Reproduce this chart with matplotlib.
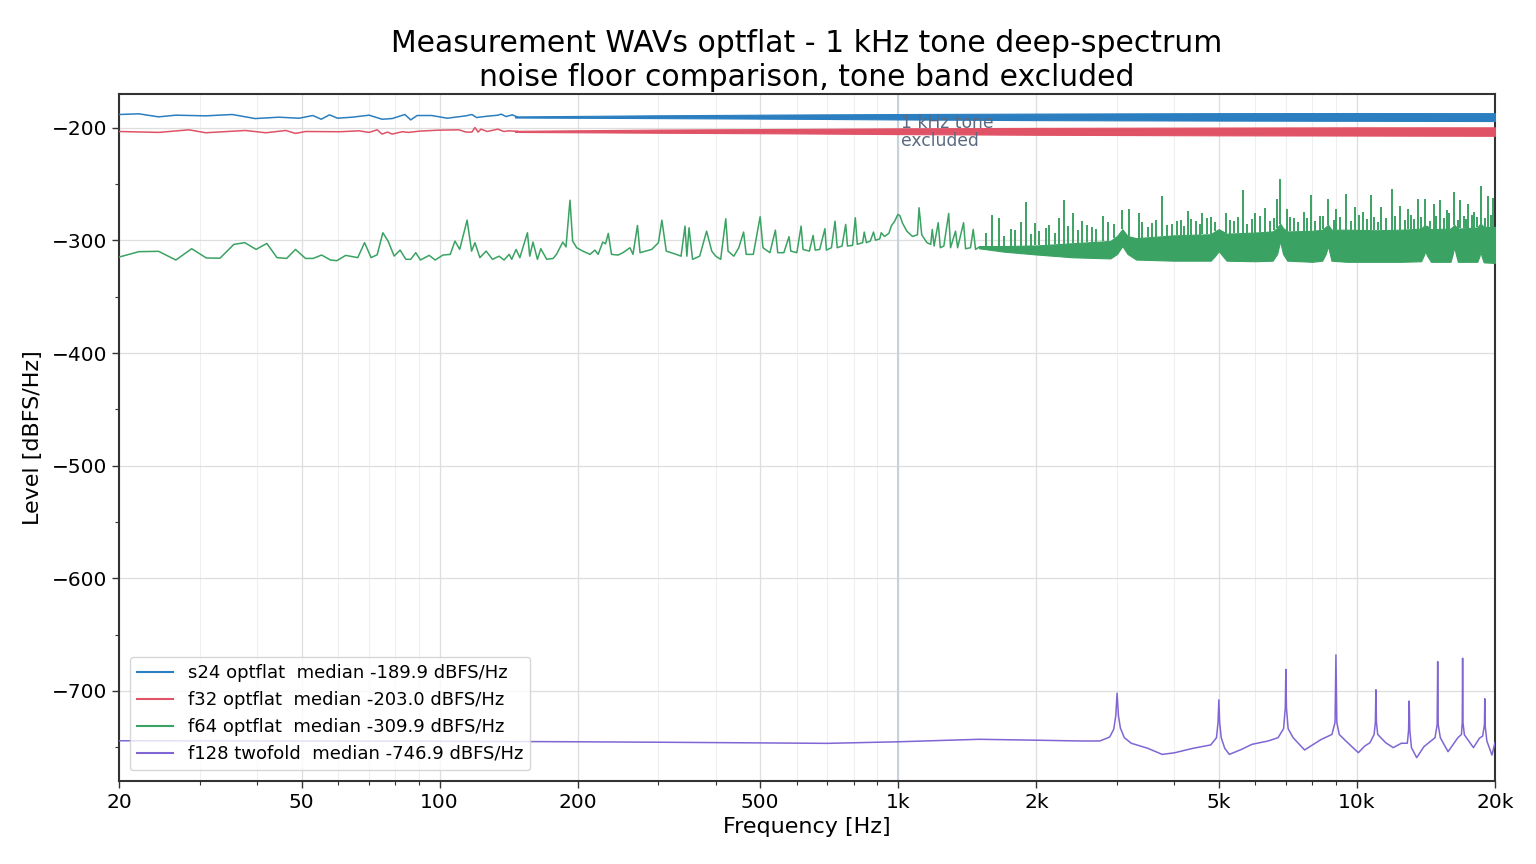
import numpy as np
import matplotlib
matplotlib.use("Agg")
import matplotlib.pyplot as plt
from matplotlib.ticker import FixedLocator, FixedFormatter, MultipleLocator, NullFormatter

# ---------------- data ----------------
title = "Measurement WAVs optflat - 1 kHz tone deep-spectrum\nnoise floor comparison, tone band excluded"
labels = ["s24 optflat  median -189.9 dBFS/Hz",
          "f32 optflat  median -203.0 dBFS/Hz",
          "f64 optflat  median -309.9 dBFS/Hz",
          "f128 twofold  median -746.9 dBFS/Hz"]
colors = ["#2b7fc0", "#e05266", "#3aa262", "#7f66d4"]

xtick_vals = [20, 50, 100, 200, 500, 1000, 2000, 5000, 10000, 20000]
xtick_labels = ["20", "50", "100", "200", "500", "1k", "2k", "5k", "10k", "20k"]

# s24 (blue): low-frequency trace, then dense band
s24_f = [20, 22.1, 24.4, 26.6, 30.9, 35.3, 39.6, 44.6, 49.4, 52.9, 55.2, 57.5, 59.9, 64.4,
         70.2, 74.9, 78.8, 84.0, 86.5, 89.3, 96.1, 103.9, 114.1, 117.6, 120.4, 125.2,
         134, 136.2, 139.6, 144, 148]
s24_v = [-188.2, -187.6, -190.3, -188.8, -189.4, -188.2, -191.8, -190.6, -191.5, -189.1,
         -192.4, -188.5, -191.5, -190.6, -188.8, -192.4, -191.8, -188.2, -193.0, -189.1,
         -189.1, -191.5, -189.4, -188.2, -190.9, -190.0, -188.8, -187.9, -190.0, -188.5, -190.5]
s24_band_f = [146, 300, 600, 1000, 2000, 5000, 10000, 20000]
s24_band_lo = [-190.9, -191.4, -192.0, -192.6, -193.2, -193.6, -193.8, -194.0]
s24_band_hi = [-189.9, -188.9, -188.2, -187.8, -187.4, -187.0, -186.9, -187.0]

# f32 (red)
f32_f = [20, 24.4, 28.4, 30.9, 37.7, 41.8, 46.2, 48.5, 51.0, 60.6, 66.7, 70.2, 73.1, 74.9,
         77.0, 78.8, 82.9, 85.6, 90.2, 99.5, 110.2, 114.1, 117.6, 119.4, 121.3, 123.1,
         127, 134, 138, 141.7, 148]
f32_v = [-203.3, -204.1, -201.8, -204.4, -202.4, -204.4, -202.4, -205.0, -203.3, -203.5,
         -202.7, -204.1, -201.8, -205.6, -203.8, -205.6, -203.5, -204.1, -203.0, -202.1,
         -201.8, -203.8, -203.8, -199.8, -203.8, -201.2, -203.3, -201.2, -203.3, -202.7, -203.2]
f32_band_f = [146, 300, 600, 1000, 2000, 5000, 10000, 20000]
f32_band_lo = [-203.7, -204.4, -205.0, -205.6, -206.2, -206.7, -206.9, -207.1]
f32_band_hi = [-202.7, -201.6, -201.0, -200.5, -200.1, -199.8, -199.6, -199.6]

# f64 (green): discernible trace up to 1.5 kHz
f64_f = [20, 22.1, 24.4, 26.6, 28.8, 31.0, 33.2, 35.6, 37.6, 39.8, 42.0, 44.2, 46.4, 48.5,
         51.0, 53.0, 55.3, 57.8, 59.7, 62.4, 66.3, 68.6, 70.9, 73.1, 75.2, 77.2, 79.6, 82.0,
         84.4, 86.5, 88.7, 90.8, 94.9, 97.8, 101.7, 105.5, 108.0, 110.6, 114.8, 117.4, 119.4,
         122.4, 126.3, 130.4, 134.8, 138.2, 141.8, 143.6, 146.8, 149.6, 155.4, 157.2, 159.8,
         163.4, 166.2, 171.2, 176.8, 179.8, 185.6, 188.6, 192.4, 195.0, 199.0, 205.2, 212.8,
         218.0, 221.6, 226.8, 230, 233.2, 237, 245, 251, 260, 264, 270, 273.5, 281.6, 290,
         300, 305.2, 312, 328, 336, 342.8, 346, 349.8, 356, 369, 382, 392, 400, 410, 420.6,
         425.5, 438, 449, 460, 466, 483, 499.8, 507, 525, 539.6, 546, 563, 577.8, 583, 601,
         614, 620, 640, 652, 659, 674, 692, 697, 715, 728, 736, 754, 768, 775, 795, 806, 814,
         836, 843, 852, 869, 883, 892, 911, 918, 933, 954, 966, 982, 998, 1008, 1021, 1044,
         1074, 1101, 1110, 1125, 1155, 1177, 1186, 1197, 1222, 1235, 1257, 1288, 1300, 1333,
         1347, 1388, 1402, 1437, 1457, 1474, 1500]
f64_v = [-314.8, -310.0, -309.7, -317.4, -307.4, -315.6, -315.8, -303.5, -302.0, -308.0,
         -302.7, -315.3, -316.0, -308.0, -316.0, -316.0, -313.0, -317.4, -318.0, -313.3,
         -315.3, -302.0, -315.3, -312.7, -293.2, -300.6, -313.9, -308.6, -316.8, -316.8,
         -310.9, -317.4, -313.3, -317.4, -313.0, -312.4, -300.6, -308.0, -282.0, -309.5,
         -302.0, -315.3, -309.5, -316.8, -314.0, -317.4, -312.4, -316.8, -308.0, -315.3,
         -293.2, -314.0, -301.5, -316.8, -307.4, -316.8, -316.0, -312.4, -301.5, -305.8,
         -264.3, -300.6, -306.5, -309.5, -312.4, -308.6, -312.4, -301.5, -303.0, -293.8,
         -312.4, -313.0, -310.9, -306.5, -312.4, -286.7, -310.9, -309.5, -308.0, -302.0,
         -282.0, -309.5, -312.4, -314.0, -287.3, -314.0, -288.8, -316.8, -314.0, -291.8,
         -309.5, -314.0, -316.8, -280.8, -309.5, -314.0, -306.5, -292.6, -312.4, -312.4,
         -279.0, -306.5, -310.9, -290.9, -310.9, -310.9, -296.7, -309.5, -310.9, -287.3,
         -308.0, -309.5, -295.6, -308.6, -308.0, -289.6, -308.6, -306.5, -282.9, -306.5,
         -305.0, -285.8, -305.0, -304.4, -279.9, -303.5, -302.0, -292.6, -302.0, -300.6,
         -292.6, -299.8, -298.7, -293.2, -296.5, -293.7, -287.0, -283.0, -277.0, -278.0,
         -284.5, -291.8, -296.5, -295.0, -271.0, -295.0, -302.0, -303.5, -290.3, -305.0,
         -284.3, -306.5, -305.0, -276.1, -306.5, -291.8, -306.5, -284.3, -307.4, -306.5,
         -290.3, -308.0, -306.0]
# f64 dense region (1.5k - 20k): envelope of the dense trace
f64_band_f = [1500, 1700, 2000, 2400, 2900, 3000, 3080, 3160, 3300, 4000, 4800, 4900, 5000,
              5100, 5200, 6000, 6550, 6700, 6800, 6900, 7050, 8000, 8400, 8550, 8650, 8800,
              9500, 11000, 12500, 13800, 14000, 14100, 14200, 14500, 16000, 16150, 16300,
              16450, 16600, 18300, 18500, 18600, 18700, 18900, 20000]
f64_band_lo = [-307.0, -310.0, -312.5, -315.0, -316.0, -312.0, -305.0, -312.0, -317.0,
               -318.0, -318.0, -314.0, -309.5, -314.0, -318.0, -318.5, -318.0, -312.0,
               -300.6, -312.0, -318.0, -319.0, -318.0, -312.0, -305.0, -318.0, -319.0,
               -319.0, -319.0, -318.5, -313.0, -309.5, -313.0, -319.0, -319.0, -313.0,
               -306.0, -313.0, -319.0, -319.0, -314.0, -309.5, -314.0, -319.5, -320.0]
f64_band_hi = [-305.0, -305.0, -304.5, -302.5, -300.5, -296.0, -290.0, -296.0, -298.0,
               -295.5, -294.5, -292.0, -290.0, -292.0, -294.0, -293.0, -292.0, -289.0,
               -285.0, -289.0, -292.0, -291.5, -290.5, -288.0, -286.0, -290.5, -290.5,
               -291.0, -290.5, -289.5, -287.0, -287.0, -287.0, -290.0, -289.5, -288.0,
               -286.0, -288.0, -289.5, -288.5, -286.0, -285.0, -286.0, -288.0, -288.0]
# isolated spikes rising above the dense region
f64_spike_f = [1600, 1660, 1760, 1850, 1900, 1990, 2030, 2130, 2240, 2300, 2410, 2520, 2640,
               2790, 2870, 3080, 3190, 3350, 3580, 3750, 3950, 4130, 4280, 4450, 4600, 4800,
               5170, 5400, 5640, 6000, 6310, 6690, 6800, 7030, 7300, 7650, 7950, 8300, 8640,
               9000, 9460, 9900, 10300, 10730, 11300, 11950, 12420, 12900, 13570, 14100,
               14700, 15200, 15700, 16300, 16790, 17500, 18000, 18600, 19350, 19800]
f64_spike_v = [-277.0, -280.0, -289.7, -284.0, -265.8, -284.4, -291.8, -286.0, -280.0,
               -263.7, -275.5, -282.5, -288.0, -277.9, -283.8, -273.2, -272.0, -275.5,
               -284.4, -260.8, -285.0, -282.0, -274.0, -283.0, -275.5, -279.0, -275.5,
               -283.0, -254.9, -276.1, -271.0, -263.0, -245.4, -272.0, -280.0, -275.0,
               -259.3, -278.0, -263.0, -272.0, -258.4, -270.0, -275.0, -260.0, -270.0,
               -254.3, -269.5, -272.0, -263.0, -263.0, -268.0, -264.0, -273.0, -257.2,
               -264.0, -268.0, -275.0, -251.9, -261.0, -262.0]
# shorter spikes that make the top of the dense region ragged
f64_small_f = [1550, 1700, 1800, 1950, 2100, 2200, 2350, 2470, 2580, 2700, 2950, 3400, 3500,
               3650, 3850, 4050, 4200, 4350, 4550, 4700, 4900, 5300, 5500, 5750, 5900, 6150,
               6450, 6600, 7150, 7450, 7800, 8100, 8450, 8900, 9200, 9700, 10100, 10500,
               10900, 11100, 11600, 12100, 12700, 13100, 13300, 13800, 14400, 14900, 15500,
               15900, 16600, 17100, 17300, 17800, 18300, 19000, 19600]
f64_small_v = [-293.0, -296.0, -291.0, -294.0, -289.0, -293.0, -287.0, -291.0, -286.0,
               -290.0, -285.0, -284.0, -288.0, -282.0, -286.0, -283.0, -287.0, -281.0,
               -285.0, -280.0, -284.0, -282.0, -279.0, -285.0, -281.0, -278.0, -283.0,
               -280.0, -279.0, -284.0, -280.0, -283.0, -278.0, -282.0, -279.0, -283.0,
               -277.0, -281.0, -279.0, -284.0, -280.0, -278.0, -282.0, -277.0, -281.0,
               -279.0, -283.0, -278.0, -280.0, -276.0, -282.0, -278.0, -281.0, -277.0,
               -279.0, -280.0, -277.0]

# f128 (purple)
f128_f = [20, 30, 50, 100, 200, 300, 500, 700, 1000, 1500, 2000, 2500, 2750, 2890, 2950, 2980,
          3000, 3020, 3050, 3110, 3220, 3500, 3762, 4000, 4392, 4800, 4940, 4980, 5000, 5020,
          5060, 5150, 5270, 5600, 5900, 6400, 6730, 6920, 6980, 7000, 7020, 7080, 7260, 7690,
          8000, 8360, 8820, 8960, 9000, 9040, 9150, 9460, 10070, 10400, 10680, 10900, 10970,
          11000, 11030, 11100, 11550, 12000, 12500, 12880, 12960, 13000, 13040, 13150, 13500,
          14000, 14800, 14960, 15000, 15040, 15200, 15800, 16600, 16900, 16970, 17000, 17030,
          17150, 17950, 18500, 18800, 18970, 19000, 19030, 19200, 19700, 20000]
f128_v = [-744.3, -744.4, -744.5, -744.7, -745.2, -745.6, -746.2, -746.6, -745.2, -743.0,
          -743.8, -744.5, -744.5, -741.0, -734.0, -722.0, -702.0, -722.0, -733.0, -741.5,
          -746.5, -751.0, -756.4, -755.0, -751.0, -748.0, -741.6, -728.0, -708.0, -728.0,
          -741.6, -751.0, -756.4, -752.0, -747.5, -744.5, -741.6, -733.5, -715.0, -681.0,
          -715.0, -733.5, -741.6, -752.5, -748.0, -743.1, -738.7, -728.0, -668.0, -728.0,
          -738.7, -744.5, -754.9, -749.0, -746.0, -738.7, -728.0, -699.0, -728.0, -738.7,
          -746.0, -750.4, -746.5, -746.5, -735.0, -709.0, -735.0, -750.4, -759.3, -749.5,
          -741.6, -730.0, -674.0, -730.0, -741.6, -754.0, -741.6, -738.7, -728.0, -671.0,
          -728.0, -739.0, -750.4, -742.0, -740.1, -730.0, -707.0, -730.0, -744.5, -757.0,
          -746.0]

tone_freq = 1000
annot_text = "1 kHz tone\nexcluded"

# ---------------- plotting ----------------
fig = plt.figure(figsize=(15.36, 8.64), dpi=100)
ax = fig.add_axes([0.0775, 0.0961, 0.8958, 0.7951])

lw = 1.1
ax.plot(s24_f, s24_v, color=colors[0], lw=lw, label=labels[0], zorder=5)
ax.fill_between(s24_band_f, s24_band_lo, s24_band_hi, color=colors[0], lw=0.8, zorder=5)
ax.plot(f32_f, f32_v, color=colors[1], lw=lw, label=labels[1], zorder=4)
ax.fill_between(f32_band_f, f32_band_lo, f32_band_hi, color=colors[1], lw=0.8, zorder=4)

ax.plot(f64_f, f64_v, color=colors[2], lw=lw, label=labels[2], zorder=3)
ax.fill_between(f64_band_f, f64_band_lo, f64_band_hi, color=colors[2], lw=0.8, zorder=3)
spike_base = np.interp(f64_spike_f, f64_band_f, f64_band_hi)
ax.vlines(f64_spike_f, spike_base, f64_spike_v, color=colors[2], lw=1.4, zorder=3)
small_base = np.interp(f64_small_f, f64_band_f, f64_band_hi)
ax.vlines(f64_small_f, small_base, f64_small_v, color=colors[2], lw=1.4, zorder=3)

ax.plot(f128_f, f128_v, color=colors[3], lw=lw, label=labels[3], zorder=3)

ax.axvline(tone_freq, color="#c9d1de", lw=1.5, zorder=2)
ax.text(tone_freq * 1.012, -187.5, annot_text, color="#5b6a80", fontsize=12.3,
        va="top", ha="left", zorder=6, linespacing=1.0)

ax.set_xscale("log")
ax.set_xlim(20, 20000)
ax.set_ylim(-780, -170)
ax.xaxis.set_major_locator(FixedLocator(xtick_vals))
ax.xaxis.set_major_formatter(FixedFormatter(xtick_labels))
ax.xaxis.set_minor_formatter(NullFormatter())
ax.yaxis.set_major_locator(MultipleLocator(100))
ax.yaxis.set_minor_locator(MultipleLocator(50))

ax.grid(True, which="major", color="#dedede", lw=0.9, zorder=0)
ax.grid(True, which="minor", axis="x", color="#efefef", lw=0.8, zorder=0)
ax.set_axisbelow(True)

for s in ax.spines.values():
    s.set_color("#333333")
    s.set_linewidth(1.5)
ax.tick_params(axis="both", which="major", labelsize=14.5, length=5, width=1, color="#333333")
ax.tick_params(axis="both", which="minor", length=3, width=0.8, color="#333333")

ax.set_xlabel("Frequency [Hz]", fontsize=16, labelpad=4)
ax.set_ylabel("Level [dBFS/Hz]", fontsize=16, labelpad=6)
ax.set_title(title, fontsize=21.5, linespacing=1.2, pad=6)

leg = ax.legend(loc="lower left", fontsize=13, frameon=True, borderaxespad=0.6)
leg.get_frame().set_edgecolor("#cccccc")
for h in leg.get_lines():
    h.set_linewidth(1.5)

fig.savefig("out.png", dpi=100)
